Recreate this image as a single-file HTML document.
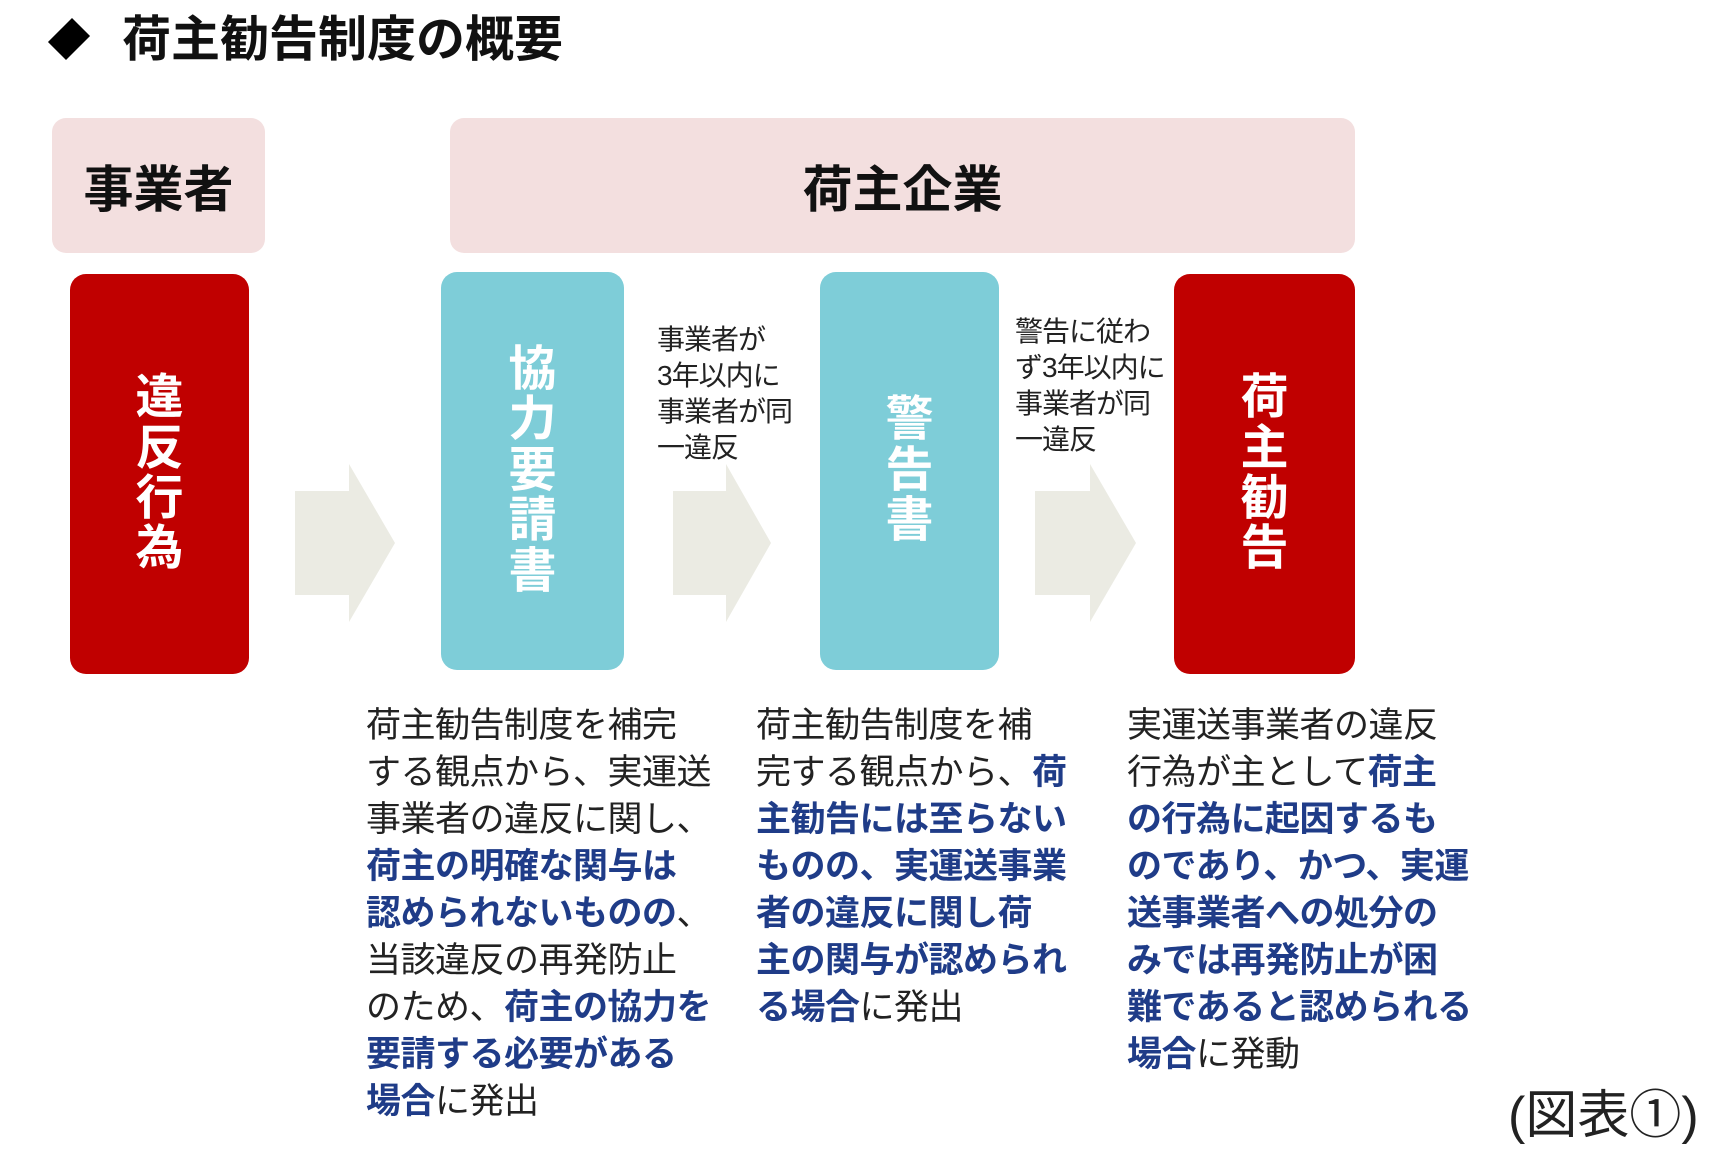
<!DOCTYPE html>
<html><head><meta charset="utf-8"><style>
body{margin:0;width:1712px;height:1168px;background:#fff;position:relative;overflow:hidden;font-family:"Liberation Sans","Noto Sans CJK JP",sans-serif;}
.a{position:absolute}
.vt{position:absolute;color:#fff;font-weight:bold;text-align:center;display:flex;flex-direction:column;align-items:center;justify-content:center}
.vt span{display:block;line-height:1.05}
.lbl{position:absolute;font-size:28px;line-height:36px;color:#222;letter-spacing:-1px}
.txt{position:absolute;font-size:35px;line-height:47px;color:#222;letter-spacing:-0.5px;white-space:nowrap}
.txt b{color:#1f3c88}
</style></head><body>
<div class="a" style="left:52px;top:22px;width:34px;height:34px;background:#000;transform:rotate(45deg) scale(0.75,1);"></div>
<div class="a" style="left:122px;top:10px;font-size:49px;font-weight:bold;line-height:60px;color:#111">荷主勧告制度の概要</div>

<div class="a" style="left:52px;top:118px;width:213px;height:135px;background:#f3dfdf;border-radius:14px;display:flex;align-items:center;justify-content:center;font-size:50px;font-weight:bold;color:#111">事業者</div>
<div class="a" style="left:450px;top:118px;width:905px;height:135px;background:#f3dfdf;border-radius:14px;display:flex;align-items:center;justify-content:center;font-size:50px;font-weight:bold;color:#111">荷主企業</div>

<div class="vt" style="left:70px;top:274px;width:179px;height:400px;background:#c00000;border-radius:16px;font-size:48px"><span>違</span><span>反</span><span>行</span><span>為</span></div>
<div class="vt" style="left:441px;top:272px;width:183px;height:398px;background:#7ecdd8;border-radius:16px;font-size:48px"><span>協</span><span>力</span><span>要</span><span>請</span><span>書</span></div>
<div class="vt" style="left:820px;top:272px;width:179px;height:398px;background:#7ecdd8;border-radius:16px;font-size:48px"><span>警</span><span>告</span><span>書</span></div>
<div class="vt" style="left:1174px;top:274px;width:181px;height:400px;background:#c00000;border-radius:16px;font-size:48px"><span>荷</span><span>主</span><span>勧</span><span>告</span></div>

<svg class="a" style="left:0;top:0" width="1712" height="1168">
<polygon points="295,491 349,491 349,464 395,543 349,622 349,595 295,595" fill="#ebebe3"/>
<polygon points="673,491 726,491 726,464 771,543 726,622 726,595 673,595" fill="#ebebe3"/>
<polygon points="1035,491 1090,491 1090,464 1136,543 1090,622 1090,595 1035,595" fill="#ebebe3"/>
</svg>

<div class="lbl" style="left:657px;top:322px">事業者が<br>3年以内に<br>事業者が同<br>一違反</div>
<div class="lbl" style="left:1015px;top:314px">警告に従わ<br>ず3年以内に<br>事業者が同<br>一違反</div>

<div class="txt" style="left:366px;top:702px">荷主勧告制度を補完<br>する観点から、実運送<br>事業者の違反に関し、<br><b>荷主の明確な関与は</b><br><b>認められないものの</b>、<br>当該違反の再発防止<br>のため、<b>荷主の協力を</b><br><b>要請する必要がある</b><br><b>場合</b>に発出</div>
<div class="txt" style="left:756px;top:702px">荷主勧告制度を補<br>完する観点から、<b>荷</b><br><b>主勧告には至らない</b><br><b>ものの、実運送事業</b><br><b>者の違反に関し荷</b><br><b>主の関与が認められ</b><br><b>る場合</b>に発出</div>
<div class="txt" style="left:1127px;top:702px">実運送事業者の違反<br>行為が主として<b>荷主</b><br><b>の行為に起因するも</b><br><b>のであり、かつ、実運</b><br><b>送事業者への処分の</b><br><b>みでは再発防止が困</b><br><b>難であると認められる</b><br><b>場合</b>に発動</div>

<div class="a" style="left:1508px;top:1086px;font-size:52px;line-height:60px;color:#222">(図表①)</div>
</body></html>
